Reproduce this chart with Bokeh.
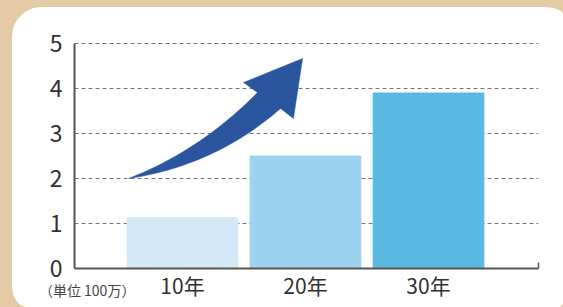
import numpy as np
from bokeh.plotting import figure
from bokeh.models import Range1d, FixedTicker, LinearAxis, ColumnDataSource
from bokeh.embed import file_html
from bokeh.resources import INLINE

# ---- data ----
categories = ["10年", "20年", "30年"]
x_pos = [1, 2, 3]
values = [1.13, 2.5, 3.9]
bar_colors = ["#d3e9f7", "#9dd3ef", "#5ab8e3"]
y_ticks = [0, 1, 2, 3, 4, 5]
unit_label = "（単位 100万）"
unit_label_x = 0.225

# decorative rising arrow (data units)
arrow_tail = (0.561, 2.0)
arrow_upper_ctrl = (1.146, 2.622)
arrow_upper_end = (1.610, 3.911)
arrow_lower_ctrl = (1.268, 2.289)
arrow_lower_end = (1.797, 3.556)
arrow_head = [(1.496, 4.133), (1.976, 4.667), (1.902, 3.333)]

FONT = "Noto Sans CJK JP"
AXIS_COLOR = "#5b5353"
TEXT_COLOR = "#333030"
PAGE_BG = "#e2cba6"


def quad(p0, c, p1, n=30):
    t = np.linspace(0, 1, n)
    x = (1 - t) ** 2 * p0[0] + 2 * (1 - t) * t * c[0] + t ** 2 * p1[0]
    y = (1 - t) ** 2 * p0[1] + 2 * (1 - t) * t * c[1] + t ** 2 * p1[1]
    return list(x), list(y)


p = figure(width=551, height=300,
           x_range=Range1d(0.122, 3.894), y_range=Range1d(0, 5.2),
           output_backend="svg", toolbar_location=None,
           min_border_left=62, min_border_right=25,
           min_border_top=27, min_border_bottom=39,
           border_fill_color="white", background_fill_color="white",
           outline_line_color=None,
           margin=(7, 0, 0, 12),
           styles={"border-radius": "30px 20px 5px 15px / 30px 8px 4px 22px",
                   "overflow": "hidden", "background-color": "white"})

src = ColumnDataSource(dict(x=x_pos, top=values, color=bar_colors, cat=categories))
p.vbar(x="x", top="top", width=0.9, color="color", source=src)

ux, uy = quad(arrow_tail, arrow_upper_ctrl, arrow_upper_end)
lx, ly = quad(arrow_tail, arrow_lower_ctrl, arrow_lower_end)
ax = ux + [h[0] for h in arrow_head] + lx[::-1]
ay = uy + [h[1] for h in arrow_head] + ly[::-1]
p.patch(ax, ay, fill_color="#2b559f", line_color="#2b559f", line_width=0.5)

# grid
p.xgrid.visible = False
p.ygrid.ticker = FixedTicker(ticks=y_ticks[1:])
p.ygrid.grid_line_color = "#777777"
p.ygrid.grid_line_dash = "4 3"
p.ygrid.grid_line_width = 1

# y axis
yax = p.yaxis[0]
yax.ticker = FixedTicker(ticks=y_ticks)
yax.bounds = (0, 5)
yax.major_tick_in = 0
yax.major_tick_out = 0
yax.minor_tick_in = 0
yax.minor_tick_out = 0
yax.axis_line_color = AXIS_COLOR
yax.axis_line_width = 2
yax.major_label_standoff = 12
yax.major_label_text_font = FONT
yax.major_label_text_font_size = "23px"
yax.major_label_text_color = TEXT_COLOR

# x axis
xax = p.xaxis[0]
xax.ticker = FixedTicker(ticks=x_pos, minor_ticks=[3.89])
xax.major_label_overrides = {x: c for x, c in zip(x_pos, categories)}
xax.major_tick_in = 0
xax.major_tick_out = 0
xax.minor_tick_in = 6
xax.minor_tick_out = 0
xax.minor_tick_line_color = AXIS_COLOR
xax.minor_tick_line_width = 1.5
xax.axis_line_color = AXIS_COLOR
xax.axis_line_width = 2
xax.major_label_standoff = 1
xax.major_label_text_font = FONT
xax.major_label_text_font_size = "21px"
xax.major_label_text_color = TEXT_COLOR

# unit note, shown as the tick label of a second, line-less x axis
uax = LinearAxis(ticker=FixedTicker(ticks=[unit_label_x]),
                 major_label_overrides={unit_label_x: unit_label},
                 axis_line_color=None, major_tick_line_color=None,
                 minor_tick_line_color=None,
                 major_tick_in=0, major_tick_out=0,
                 major_label_standoff=-23,
                 major_label_text_font=FONT,
                 major_label_text_font_size="14px",
                 major_label_text_color="#444444")
p.add_layout(uax, "below")

html = file_html(p, INLINE)
html = html.replace("<head>", "<head><style>html,body{background:%s;}</style>" % PAGE_BG, 1)
open("out.html", "w").write(html)
